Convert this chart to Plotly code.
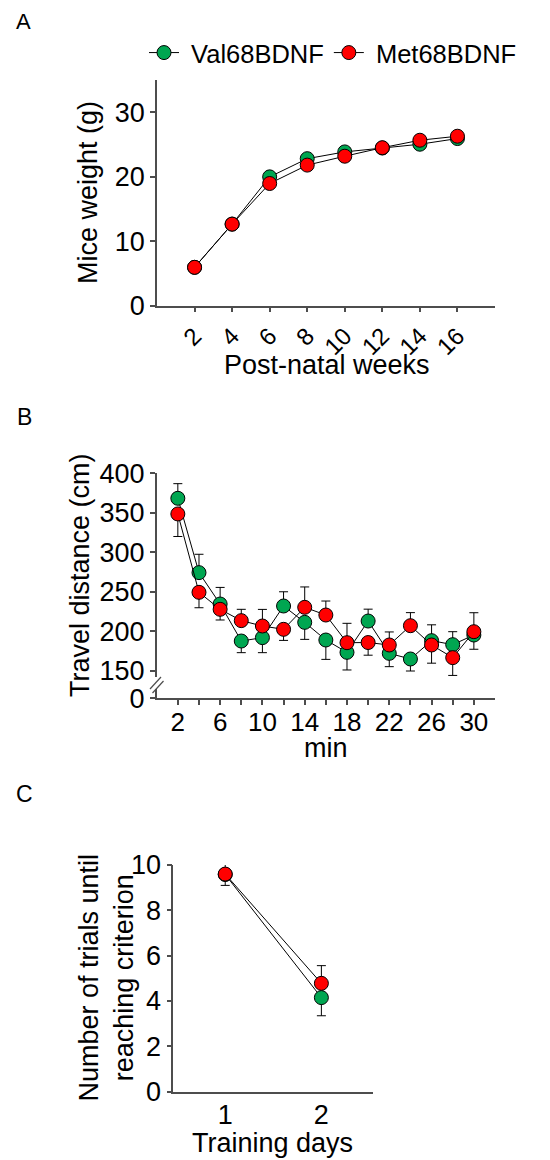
import plotly.graph_objects as go

# ---------------- data ----------------
weeks = [2, 4, 6, 8, 10, 12, 14, 16]
weight_val = [5.95, 12.65, 19.98, 22.8, 23.85, 24.45, 25.04, 25.92]
weight_met = [5.95, 12.65, 18.95, 21.8, 23.18, 24.5, 25.66, 26.28]

minutes = [2, 4, 6, 8, 10, 12, 14, 16, 18, 20, 22, 24, 26, 28, 30]
min_ticktext = ["2", "", "6", "", "10", "", "14", "", "18", "", "22", "", "26", "", "30"]
dist_val = [368.4, 274.4, 234.7, 187.9, 192.2, 232.2, 211.5, 189.2, 173.6, 213.2, 172.3, 165.2, 188.4, 183.3, 195.5]
dist_val_up = [18.5, 23.2, 21.0, 0, 0, 18.0, 0, 0, 0, 15.0, 0, 0, 20.0, 16.4, 0]
dist_val_dn = [0, 0, 0, 14.7, 19.0, 0, 21.5, 24.5, 22.3, 0, 16.8, 15.2, 0, 0, 18.0]
dist_met = [348.6, 249.5, 228.0, 213.7, 206.9, 202.7, 230.5, 220.8, 185.8, 186.0, 182.9, 207.3, 182.9, 166.9, 199.7]
dist_met_up = [0, 0, 0, 14.3, 21.0, 0, 25.8, 17.7, 24.5, 0, 16.5, 16.5, 0, 0, 24.0]
dist_met_dn = [28.5, 19.5, 13.5, 0, 0, 14.0, 0, 0, 0, 16.0, 0, 0, 23.0, 22.5, 0]

days = [1, 2]
trials_val = [9.58, 4.15]
trials_val_up = [0, 0]
trials_val_dn = [0.48, 0.8]
trials_met = [9.6, 4.78]
trials_met_up = [0.46, 0.78]
trials_met_dn = [0, 0]

# ---------------- style ----------------
W, H = 550, 1160
OFF = 8  # page body margin of the html page
GREEN = "#00A651"
RED = "#FF0000"
AX = "#4d4d4d"
FONT = "Liberation Sans, Arial, sans-serif"
TICK = 27
TITLE = 27


def px_x(p):
    return (p - OFF) / W


def px_y(p):
    return 1 - (p - OFF) / H


def marker(color):
    return dict(color=color, size=14, line=dict(color="black", width=1))


fig = go.Figure()

# Panel A
fig.add_trace(go.Scatter(x=weeks, y=weight_val, mode="lines+markers", name="\u00a0Val68BDNF",
                         line=dict(color="black", width=1), marker=marker(GREEN),
                         xaxis="x", yaxis="y"))
fig.add_trace(go.Scatter(x=weeks, y=weight_met, mode="lines+markers", name="\u00a0Met68BDNF",
                         line=dict(color="black", width=1), marker=marker(RED),
                         xaxis="x", yaxis="y"))

# Panel B
eb = dict(type="data", symmetric=False, color="black", thickness=1, width=4.5)
fig.add_trace(go.Scatter(x=minutes, y=dist_val, mode="lines+markers", name="Val68BDNF",
                         line=dict(color="black", width=1), marker=marker(GREEN),
                         error_y=dict(array=dist_val_up, arrayminus=dist_val_dn, **eb),
                         xaxis="x2", yaxis="y2", showlegend=False))
fig.add_trace(go.Scatter(x=minutes, y=dist_met, mode="lines+markers", name="Met68BDNF",
                         line=dict(color="black", width=1), marker=marker(RED),
                         error_y=dict(array=dist_met_up, arrayminus=dist_met_dn, **eb),
                         xaxis="x2", yaxis="y2", showlegend=False))
fig.add_trace(go.Scatter(x=[None], y=[None], mode="markers", xaxis="x2", yaxis="y3",
                         showlegend=False, hoverinfo="skip"))

# Panel C
fig.add_trace(go.Scatter(x=days, y=trials_val, mode="lines+markers", name="Val68BDNF",
                         line=dict(color="black", width=1), marker=marker(GREEN),
                         error_y=dict(array=trials_val_up, arrayminus=trials_val_dn, **eb),
                         xaxis="x3", yaxis="y4", showlegend=False))
fig.add_trace(go.Scatter(x=days, y=trials_met, mode="lines+markers", name="Met68BDNF",
                         line=dict(color="black", width=1), marker=marker(RED),
                         error_y=dict(array=trials_met_up, arrayminus=trials_met_dn, **eb),
                         xaxis="x3", yaxis="y4", showlegend=False))

axis_common = dict(showline=True, linecolor=AX, linewidth=1.5, ticks="outside", ticklen=5,
                   tickcolor=AX, tickwidth=1.5, showgrid=False, zeroline=False,
                   automargin=False,
                   tickfont=dict(family=FONT, size=TICK, color="black"), fixedrange=True)

fig.update_layout(
    template="none",
    width=W, height=H,
    margin=dict(l=0, r=0, t=0, b=0, pad=0, autoexpand=False),
    paper_bgcolor="white", plot_bgcolor="white",
    font=dict(family=FONT, color="black"),
    showlegend=True,
    legend=dict(orientation="h", x=px_x(144), y=px_y(53), xanchor="left", yanchor="middle",
                font=dict(family=FONT, size=25.5, color="black"), bgcolor="rgba(0,0,0,0)",
                borderwidth=0, itemclick=False),
    # Panel A
    xaxis=dict(domain=[px_x(157), px_x(495)], range=[0, 18], anchor="y",
               tickvals=weeks, tickangle=-45,
               **{**axis_common, "tickfont": dict(family=FONT, size=24, color="black")}),
    yaxis=dict(domain=[px_y(305.7), px_y(80)], range=[0, 35], anchor="x",
               tickvals=[0, 10, 20, 30], **axis_common),
    # Panel B
    xaxis2=dict(domain=[px_x(156.7), px_x(495)], range=[0, 32], anchor="y3",
                tickvals=minutes, ticktext=min_ticktext, tickangle=0,
                ticklabelstandoff=-5,
                **{**axis_common, "tickfont": dict(family=FONT, size=26, color="black")}),
    yaxis2=dict(domain=[px_y(676.7), px_y(473.3)], range=[142.8, 400], anchor="x2",
                tickvals=[150, 200, 250, 300, 350, 400], **axis_common),
    yaxis3=dict(domain=[px_y(698.3), px_y(689)], range=[0, 11.8], anchor="x2",
                tickvals=[0], **axis_common),
    # Panel C
    xaxis3=dict(domain=[px_x(173.3), px_x(373.3)], range=[0.46, 2.54], anchor="y4",
                tickvals=days, ticklabelstandoff=-2, **{**axis_common, "ticks": ""}),
    yaxis4=dict(domain=[px_y(1091.7), px_y(865)], range=[0, 10], anchor="x3",
                tickvals=[0, 2, 4, 6, 8, 10], **axis_common),
)

def ann(text, x, y, size=TITLE, angle=0):
    fig.add_annotation(text=text, x=px_x(x), y=px_y(y), xref="paper", yref="paper",
                       showarrow=False, textangle=angle, xanchor="center", yanchor="middle",
                       font=dict(family=FONT, size=size, color="black"))

# panel labels
ann("A", 23, 22, size=22)
ann("B", 24, 417, size=23)
ann("C", 24, 794, size=23)
# axis titles
ann("Mice weight (g)", 88, 193, angle=-90)
ann("Post-natal weeks", 327, 365)
ann("Travel distance (cm)", 80, 575, angle=-90)
ann("min", 326, 748)
ann("Number of trials until<br>reaching criterion", 106.5, 978, angle=-90)
ann("Training days", 272.5, 1143)

# axis break marks on panel B
for (x0, y0, x1, y1) in [(150, 689, 161, 677), (152.5, 693, 163.5, 681)]:
    fig.add_shape(type="line", xref="paper", yref="paper",
                  x0=px_x(x0), y0=px_y(y0), x1=px_x(x1), y1=px_y(y1),
                  line=dict(color=AX, width=1.2))

fig.write_html("out.html")
